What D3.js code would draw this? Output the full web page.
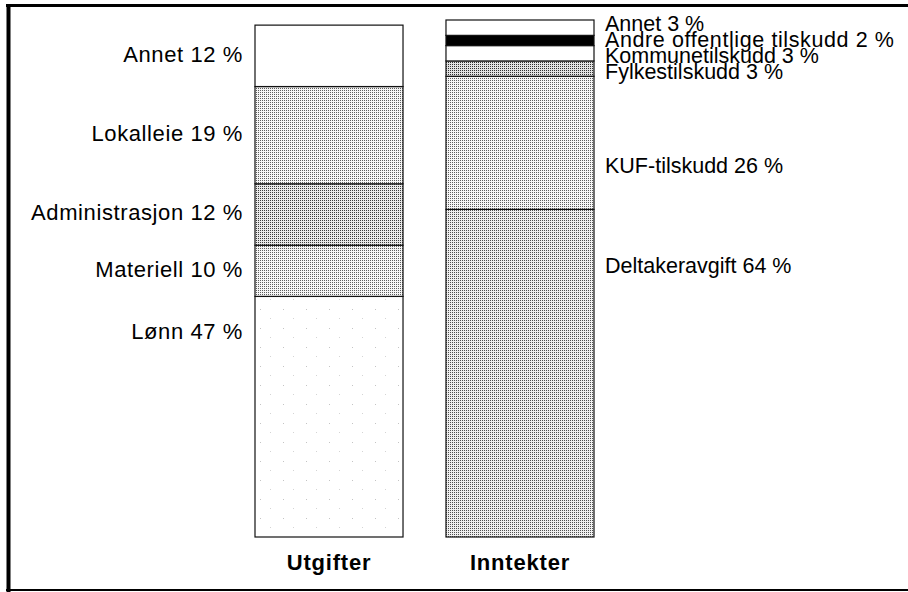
<!DOCTYPE html>
<html lang="no">
<head>
<meta charset="UTF-8">
<title>Utgifter og inntekter</title>
<script src="https://d3js.org/d3.v7.min.js"></script>
<style>
  body { margin: 0; background: #fff; }
  svg { display: block; font-family: 'Liberation Sans', Arial, sans-serif; }
</style>
</head>
<body>
<svg width="908" height="592"></svg>
<script>
  // data (percent shares), bottom -> top
  const columns = ["Utgifter", "Inntekter"];
  const utgifterCats = ["Lønn", "Materiell", "Administrasjon", "Lokalleie", "Annet"];
  const utgifterVals = [47, 10, 12, 19, 12];
  const inntekterCats = ["Deltakeravgift", "KUF-tilskudd", "Fylkestilskudd", "Kommunetilskudd", "Andre offentlige tilskudd", "Annet"];
  const inntekterVals = [64, 26, 3, 3, 2, 3];

  const svg = d3.select("svg");
  const defs = svg.append("defs");

  // dotted screen fills like the printed original
  function dots(id, dot, bg) {
    const p = defs.append("pattern").attr("id", id)
      .attr("width", 2).attr("height", 2).attr("patternUnits", "userSpaceOnUse");
    p.append("rect").attr("width", 2).attr("height", 2).attr("fill", bg);
    p.append("rect").attr("width", 1).attr("height", 1).attr("fill", dot);
  }
  dots("light", "#5e5e5e", "#f6f6f6");
  dots("mid", "#505050", "#f0f0f0");
  dots("dark", "#3c3c3c", "#eaeaea");
  dots("darker", "#303030", "#e2e2e2");
  const speck = defs.append("pattern").attr("id", "speck")
    .attr("width", 23).attr("height", 19).attr("patternUnits", "userSpaceOnUse");
  speck.append("rect").attr("width", 23).attr("height", 19).attr("fill", "#fff");
  speck.append("rect").attr("x", 7).attr("y", 5).attr("width", 1).attr("height", 1).attr("fill", "#c4c4c4");
  speck.append("rect").attr("x", 17).attr("y", 14).attr("width", 1).attr("height", 1).attr("fill", "#d4d4d4");

  const fills = {
    Utgifter: { "Lønn": "url(#speck)", "Materiell": "url(#light)", "Administrasjon": "url(#dark)", "Lokalleie": "url(#light)", "Annet": "#fff" },
    Inntekter: { "Deltakeravgift": "url(#mid)", "KUF-tilskudd": "url(#light)", "Fylkestilskudd": "url(#darker)",
                 "Kommunetilskudd": "#fff", "Andre offentlige tilskudd": "#000", "Annet": "#fff" }
  };

  function stack(cats, vals) {
    let acc = 0;
    return cats.map((c, i) => { const d = { cat: c, v: vals[i], y0: acc, y1: acc + vals[i] }; acc += vals[i]; return d; });
  }
  const stacks = {
    Utgifter: stack(utgifterCats, utgifterVals),
    Inntekter: stack(inntekterCats, inntekterVals)
  };

  const x = d3.scaleBand().domain(columns).range([255, 594]).paddingInner(0.225);
  const y = d3.scaleLinear().domain([0, 101]).range([537, 20]);

  // frame
  svg.append("line").attr("x1", 6).attr("x2", 908).attr("y1", 5.5).attr("y2", 5.5).attr("stroke", "#000").attr("stroke-width", 3);
  svg.append("line").attr("x1", 8.5).attr("x2", 8.5).attr("y1", 4).attr("y2", 592).attr("stroke", "#000").attr("stroke-width", 4);
  svg.append("line").attr("x1", 6).attr("x2", 908).attr("y1", 590).attr("y2", 590).attr("stroke", "#000").attr("stroke-width", 2);

  columns.forEach(col => {
    const g = svg.append("g");
    g.selectAll("rect").data(stacks[col]).join("rect")
      .attr("x", x(col))
      .attr("width", x.bandwidth())
      .attr("y", d => y(d.y1))
      .attr("height", d => y(d.y0) - y(d.y1))
      .attr("fill", d => fills[col][d.cat])
      .attr("stroke", "#111")
      .attr("stroke-width", 1.2);

    g.append("text")
      .attr("x", x(col) + x.bandwidth() / 2)
      .attr("y", 570)
      .attr("text-anchor", "middle")
      .attr("font-size", 22)
      .attr("font-weight", "bold")
      .attr("letter-spacing", 0.8)
      .text(col);
  });

  // labels
  const left = stacks.Utgifter;
  svg.append("g").selectAll("text").data(left).join("text")
    .attr("x", x("Utgifter") - 12)
    .attr("y", d => {
      const top = y(d.y1), bot = y(d.y0);
      return (bot - top > 150 ? top + 35 : (top + bot) / 2 - 2);
    })
    .attr("dy", "0.35em")
    .attr("text-anchor", "end")
    .attr("font-size", 22)
    .attr("letter-spacing", 0.6)
    .text(d => `${d.cat} ${d.v} %`);

  // the four small income shares are listed tightly at the top, as in the original
  const right = stacks.Inntekter;
  const small = right.filter(d => d.v < 10).reverse(); // top-down list
  const rx = x("Inntekter") + x.bandwidth() + 11;
  const rg = svg.append("g").attr("font-size", 21.5);
  rg.selectAll("text.small").data(small).join("text")
    .attr("class", "small")
    .attr("x", rx)
    .attr("y", (d, i) => y(101) + 3 + i * 16)
    .attr("dy", "0.35em")
    .attr("letter-spacing", d => d.v === 2 ? 0.6 : 0)
    .text(d => `${d.cat} ${d.v} %`);
  const bigShift = { "KUF-tilskudd": 23, "Deltakeravgift": -108 };
  rg.selectAll("text.big").data(right.filter(d => d.v >= 10)).join("text")
    .attr("class", "big")
    .attr("x", rx)
    .attr("y", d => (y(d.y0) + y(d.y1)) / 2 + bigShift[d.cat])
    .attr("dy", "0.35em")
    .text(d => `${d.cat} ${d.v} %`);
</script>
</body>
</html>
